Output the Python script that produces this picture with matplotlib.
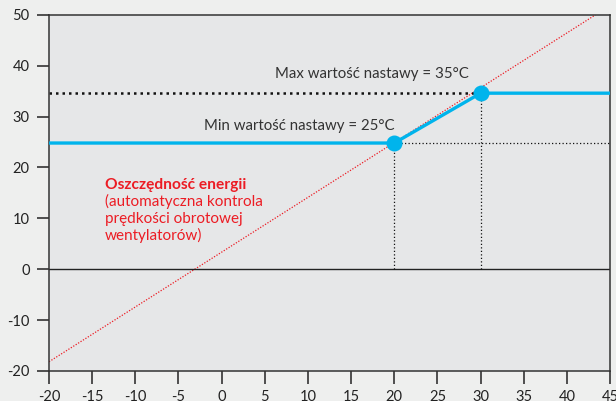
import matplotlib.pyplot as plt

plt.rcParams['font.family'] = ['Lato', 'DejaVu Sans']
plt.rcParams['axes.unicode_minus'] = False

# data
x_ticks = [-20, -15, -10, -5, 0, 5, 10, 15, 20, 25, 30, 35, 40, 45]
y_ticks = [-20, -10, 0, 10, 20, 30, 40, 50]

min_set = 24.8
max_set = 34.6
x_min_pt = 20
x_max_pt = 30

curve_x = [-20, x_min_pt, x_max_pt, 45]
curve_y = [min_set, min_set, max_set, max_set]

red_x = [-20, 43.3]
red_y = [-18.2, 50]

blue = '#00b4ec'
red = '#ec1c24'

fig = plt.figure(figsize=(6.16, 4.01), dpi=100, facecolor='#eeefee')
ax = fig.add_axes([0.0795, 0.075, 0.911, 0.888])
ax.set_facecolor('#e6e7e8')

ax.plot(red_x, red_y, color=red, lw=0.9, ls=(0, (1, 1.3)), zorder=2)
ax.axhline(0, color='#222222', lw=1.0, zorder=2)

ax.plot([-20, x_max_pt], [max_set, max_set], color='#111111', lw=1.8,
        ls=(0, (1, 1.6)), zorder=2)
ax.plot([x_min_pt, 45], [min_set, min_set], color='#111111', lw=0.9,
        ls=(0, (1, 1.8)), zorder=2)
ax.plot([x_min_pt, x_min_pt], [0, min_set], color='#111111', lw=0.9,
        ls=(0, (1, 1.8)), zorder=2)
ax.plot([x_max_pt, x_max_pt], [0, max_set], color='#111111', lw=0.9,
        ls=(0, (1, 1.8)), zorder=2)

ax.plot(curve_x, curve_y, color=blue, lw=2.4, zorder=3, solid_capstyle='butt')
ax.plot([x_min_pt, x_max_pt], [min_set, max_set], 'o', color=blue, ms=10.5, zorder=4)

ax.text(28.6, 38.4, 'Max wartość nastawy = 35°C', ha='right', va='center',
        fontsize=10.8, color='#333333')
ax.text(20.0, 28.2, 'Min wartość nastawy = 25°C', ha='right', va='center',
        fontsize=10.8, color='#333333')

ax.text(-13.5, 16.6, 'Oszczędność energii', ha='left', va='center',
        fontsize=11.2, color=red, fontweight='bold')
ax.text(-13.5, 14.7, '(automatyczna kontrola\nprędkości obrotowej\nwentylatorów)',
        ha='left', va='top', fontsize=11, color=red, linespacing=1.2)

ax.set_xlim(-20, 45)
ax.set_ylim(-20, 50)
ax.set_xticks(x_ticks)
ax.set_yticks(y_ticks)
ax.tick_params(direction='out', length=9, width=1.2, color='#333333',
               labelsize=10.5, labelcolor='#222222', pad=5)
for s in ax.spines.values():
    s.set_color('#333333')
    s.set_linewidth(1.1)

fig.savefig('out.png', dpi=100, facecolor=fig.get_facecolor())
